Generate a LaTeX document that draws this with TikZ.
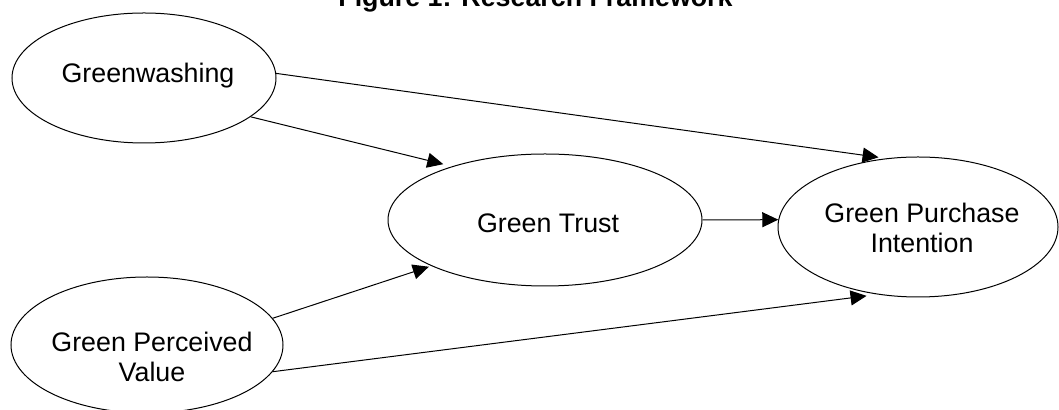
\documentclass[tikz,border=0pt]{standalone}
\usepackage{fontspec}
\setmainfont{Liberation Sans}
\usetikzlibrary{arrows.meta,shapes.geometric}
\begin{document}
\begin{tikzpicture}[x=0.5pt,y=-0.5pt,
  construct/.style={draw, ellipse, line width=0.5pt, inner sep=0pt},
  lbl/.style={font=\fontsize{13.4}{14.8}\selectfont, inner sep=0pt, anchor=base},
  path/.style={-{Triangle[length=8pt,width=7.5pt]}, line width=0.5pt}]
\useasboundingbox (0,0) rectangle (1059,410);
\clip (0,0) rectangle (1059,410);

% title
\node[lbl, font=\fontsize{13.4}{14.8}\selectfont\bfseries, anchor=base east] (title) at (733,7) {Figure 1: Research Framework};

% constructs
\node[construct, minimum width=132pt, minimum height=65pt] (gw)  at (144,78)  {};
\node[construct, minimum width=157pt, minimum height=66pt] (gt)  at (545,220) {};
\node[construct, minimum width=140pt, minimum height=70pt] (gpi) at (918,227) {};
\node[construct, minimum width=136pt, minimum height=68pt] (gpv) at (147,345) {};

% construct names
\node[lbl] (gw-t)  at (148,83)  {Greenwashing};
\node[lbl] (gt-t)  at (548,233) {Green Trust};
\node[lbl] (gpi-t) at (922,223) {\begin{tabular}[t]{@{}c@{}}Green Purchase\\Intention\end{tabular}};
\node[lbl] (gpv-t) at (152,352) {\begin{tabular}[t]{@{}c@{}}Green Perceived\\Value\end{tabular}};

% hypothesised paths
\draw[path, shorten >=3.75pt] (gw.2)   -- (gpi.115);
\draw[path, shorten >=4.5pt]  (gw.-20) -- (gt.150.8);
\draw[path, shorten >=1.25pt] (gpv.12) -- (gt.202);
\draw[path, shorten >=5.5pt]  (gpv.-12) -- (gpi.239.7);
\draw[path] (gt.0) -- (gpi.177);
\end{tikzpicture}
\end{document}
